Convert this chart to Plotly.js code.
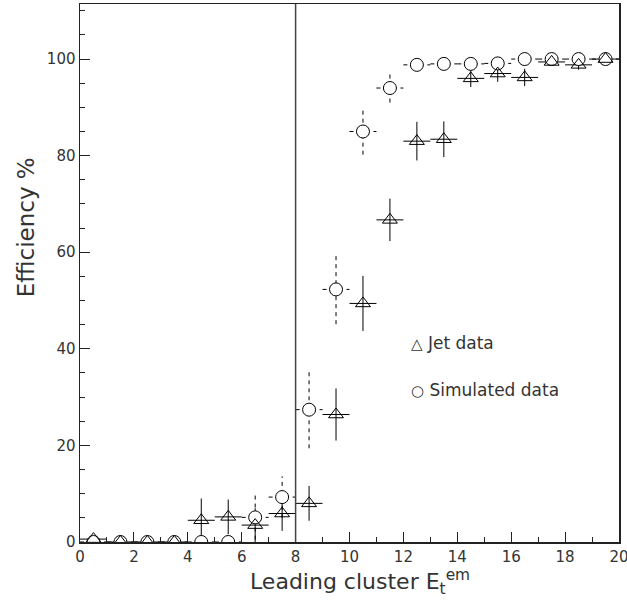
<!DOCTYPE html>
<html>
<head>
<meta charset="utf-8">
<script src="https://cdn.plot.ly/plotly-3.0.1.min.js"></script>
<style>html,body{margin:0;padding:0;background:#fff;}#chart{width:627px;height:600px;}</style>
</head>
<body>
<div id="chart"></div>
<script>
// ---- data ----
const binCenters = [0.5,1.5,2.5,3.5,4.5,5.5,6.5,7.5,8.5,9.5,10.5,11.5,12.5,13.5,14.5,15.5,16.5,17.5,18.5,19.5];
const binHalfWidth = [0.5,0.5,0.5,0.5,0.5,0.5,0.5,0.5,0.5,0.5,0.5,0.5,0.5,0.5,0.5,0.5,0.5,0.5,0.5,0.5];
const jetEff = [0.6,0,0,0,4.5,5.2,3.5,5.9,8.0,26.4,49.4,66.7,83.0,83.4,96.0,97.0,96.2,99.4,98.8,100];
const jetErr = [0.5,0,0,0,4.5,3.6,3.5,3.6,3.6,5.4,5.7,4.4,4.0,3.7,1.8,1.7,1.8,0.7,1.0,0.5];
const simEff = [0,0,0,0,0,0,5.1,9.3,27.4,52.3,85.0,94.0,98.8,99.0,99.0,99.1,100,100,100,100];
const simErr = [0,0,0,0,0,0,4.6,4.3,8.0,7.2,4.8,3.0,1.0,0.5,0.5,0.5,0,0,0,0];
const cutValue = 8;
const legendSymbols = ["\u25B3", "\u25CB"];
const legendLabels = ["Jet data", "Simulated data"];
const legendPos = [[12.2, 41.2], [12.2, 31.5]];
const xTitle = 'Leading cluster E<sub>t</sub><sup>em</sup>';
const yTitle = 'Efficiency %';

// build error-bar segments from the data (with null separators)
function segments(xc, hw, yc, ye) {
  const xs = [], ys = [];
  for (let i = 0; i < xc.length; i++) {
    xs.push(xc[i] - hw[i], xc[i] + hw[i], null);
    ys.push(yc[i], yc[i], null);
    if (ye[i] > 0) {
      xs.push(xc[i], xc[i], null);
      ys.push(yc[i] - ye[i], yc[i] + ye[i], null);
    }
  }
  return {xs, ys};
}
const jetSeg = segments(binCenters, binHalfWidth, jetEff, jetErr);
const simSeg = segments(binCenters, binHalfWidth, simEff, simErr);

const traces = [
  {x: jetSeg.xs, y: jetSeg.ys, mode: 'lines', line: {color: '#000', width: 1}, hoverinfo: 'skip', showlegend: false},
  {x: simSeg.xs, y: simSeg.ys, mode: 'lines', line: {color: '#000', width: 1, dash: '4px,4px'}, hoverinfo: 'skip', showlegend: false},
  {x: binCenters, y: simEff, mode: 'markers', name: 'Simulated data', showlegend: false,
   marker: {symbol: 'circle', size: 13, color: '#fff', line: {color: '#000', width: 1}}},
  {x: binCenters, y: jetEff, mode: 'markers', name: 'Jet data', showlegend: false,
   marker: {symbol: 'triangle-up-open', size: 13, color: '#000', line: {color: '#000', width: 1}}}
];

const font = 'DejaVu Sans, Liberation Sans, sans-serif';
const txtColor = '#333';
const annotations = legendLabels.map((t, i) => ({
  text: '<span style="font-size:15px">' + legendSymbols[i] + '</span> ' + t,
  x: legendPos[i][0], y: legendPos[i][1], xref: 'x', yref: 'y',
  xanchor: 'left', yanchor: 'middle', showarrow: false,
  font: {size: 17, family: font, color: txtColor}
}));
annotations.push({
  text: xTitle, xref: 'paper', yref: 'paper', x: 0.52, y: -0.074, xanchor: 'center', yanchor: 'middle',
  showarrow: false, font: {size: 22, family: font, color: txtColor}
});
annotations.push({
  text: yTitle, xref: 'paper', yref: 'paper', x: -0.128, y: 0.585, xanchor: 'left', yanchor: 'middle',
  textangle: -90, showarrow: false, font: {size: 23, family: font, color: txtColor}
});

const layout = {
  width: 627, height: 600,
  margin: {l: 80, r: 8, t: 4, b: 58},
  paper_bgcolor: '#fff', plot_bgcolor: '#fff',
  font: {family: font, color: txtColor, size: 15},
  showlegend: false,
  xaxis: {
    range: [0, 20], dtick: 2, tick0: 0, ticks: 'inside', ticklen: 10, tickwidth: 1, tickcolor: '#222',
    showgrid: false, zeroline: false, showline: true, linecolor: '#222', linewidth: 1.5, mirror: true,
    minor: {dtick: 1, ticks: 'inside', ticklen: 5, tickcolor: '#222', showgrid: false},
    tickfont: {size: 15, family: font, color: txtColor}, ticklabeloverflow: 'allow'
  },
  yaxis: {
    range: [0, 111.4], dtick: 20, tick0: 0, ticks: 'inside', ticklen: 10, tickwidth: 1, tickcolor: '#222',
    showgrid: false, zeroline: false, showline: true, linecolor: '#222', linewidth: 1.5, mirror: true,
    minor: {dtick: 5, ticks: 'inside', ticklen: 5, tickcolor: '#222', showgrid: false},
    tickfont: {size: 15, family: font, color: txtColor}, ticklabeloverflow: 'allow'
  },
  shapes: [
    {type: 'line', xref: 'x', yref: 'paper', x0: cutValue, x1: cutValue, y0: 0, y1: 1,
     line: {color: '#444', width: 1.5}}
  ],
  annotations: annotations
};

Plotly.newPlot('chart', traces, layout, {displayModeBar: false, staticPlot: true});
</script>
</body>
</html>
